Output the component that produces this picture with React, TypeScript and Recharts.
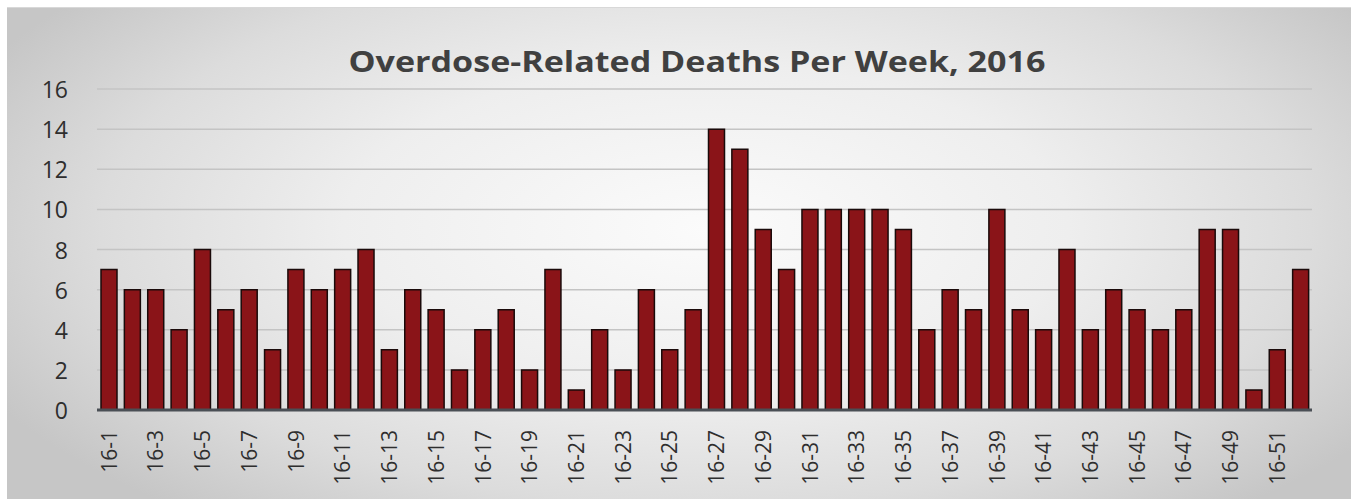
import React from "react";
import { BarChart, Bar, XAxis, YAxis, CartesianGrid } from "recharts";

const weeks: string[] = [
  "16-1","16-2","16-3","16-4","16-5","16-6","16-7","16-8","16-9","16-10",
  "16-11","16-12","16-13","16-14","16-15","16-16","16-17","16-18","16-19","16-20",
  "16-21","16-22","16-23","16-24","16-25","16-26","16-27","16-28","16-29","16-30",
  "16-31","16-32","16-33","16-34","16-35","16-36","16-37","16-38","16-39","16-40",
  "16-41","16-42","16-43","16-44","16-45","16-46","16-47","16-48","16-49","16-50",
  "16-51","16-52",
];
const deaths: number[] = [
  7, 6, 6, 4, 8, 5, 6, 3, 7, 6,
  7, 8, 3, 6, 5, 2, 4, 5, 2, 7,
  1, 4, 2, 6, 3, 5, 14, 13, 9, 7,
  10, 10, 10, 10, 9, 4, 6, 5, 10, 5,
  4, 8, 4, 6, 5, 4, 5, 9, 9, 1,
  3, 7,
];
const yTicks: number[] = [0, 2, 4, 6, 8, 10, 12, 14, 16];
const title = "Overdose-Related Deaths Per Week, 2016";

const data = weeks.map((w, i) => ({ week: w, deaths: deaths[i] }));

const FONT = "'Open Sans', 'Liberation Sans', sans-serif";

const XTick = (props: any) => {
  const { x, y, payload } = props;
  return (
    <text
      x={0}
      y={0}
      transform={`translate(${x},${y + 12}) rotate(-90)`}
      textAnchor="end"
      dominantBaseline="central"
      fontSize={21}
      fontFamily={FONT}
      fill="#2e2e2e"
    >
      {payload.value}
    </text>
  );
};

const YTick = (props: any) => {
  const { x, y, payload } = props;
  return (
    <text
      x={x}
      y={y}
      textAnchor="end"
      dominantBaseline="central"
      fontSize={23}
      fontFamily={FONT}
      fill="#2e2e2e"
    >
      {payload.value}
    </text>
  );
};

export default function App() {
  const W = 1344;
  const H = 492;
  return (
    <div
      style={{
        position: "absolute",
        left: 7,
        top: 7,
        width: W,
        height: H,
        background:
          "radial-gradient(ellipse 60% 75% at 52% 45%, #fbfbfb 0%, #eeeeee 45%, #dcdcdc 75%, #c6c6c6 100%)",
        borderTop: "1px solid #d8d8d8",
      }}
    >
      <svg
        width={W}
        height={80}
        style={{ position: "absolute", left: 0, top: 0, pointerEvents: "none" }}
      >
        <text
          x={690}
          y={64}
          textAnchor="middle"
          fontSize={28}
          fontWeight={700}
          fontFamily={FONT}
          fill="#404040"
          textLength={697}
          lengthAdjust="spacingAndGlyphs"
        >
          {title}
        </text>
      </svg>
      <BarChart
        width={W}
        height={H}
        data={data}
        margin={{ top: 81, right: 39, bottom: 8, left: 30 }}
        barCategoryGap="30%"
      >
        <CartesianGrid
          vertical={false}
          stroke="#c4c4c4"
          strokeWidth={1.5}
        />
        <XAxis
          dataKey="week"
          interval={1}
          height={82}
          tickLine={false}
          axisLine={{ stroke: "#4a4f55", strokeWidth: 3 }}
          tick={<XTick />}
        />
        <YAxis
          width={60}
          domain={[0, 16]}
          ticks={yTicks}
          interval={0}
          axisLine={false}
          tickLine={false}
          tickSize={0}
          tickMargin={29}
          tick={<YTick />}
        />
        <Bar
          dataKey="deaths"
          fill="#8a1418"
          stroke="#1a0a0a"
          strokeWidth={1.5}
          barSize={16}
          isAnimationActive={false}
        />
      </BarChart>
    </div>
  );
}
